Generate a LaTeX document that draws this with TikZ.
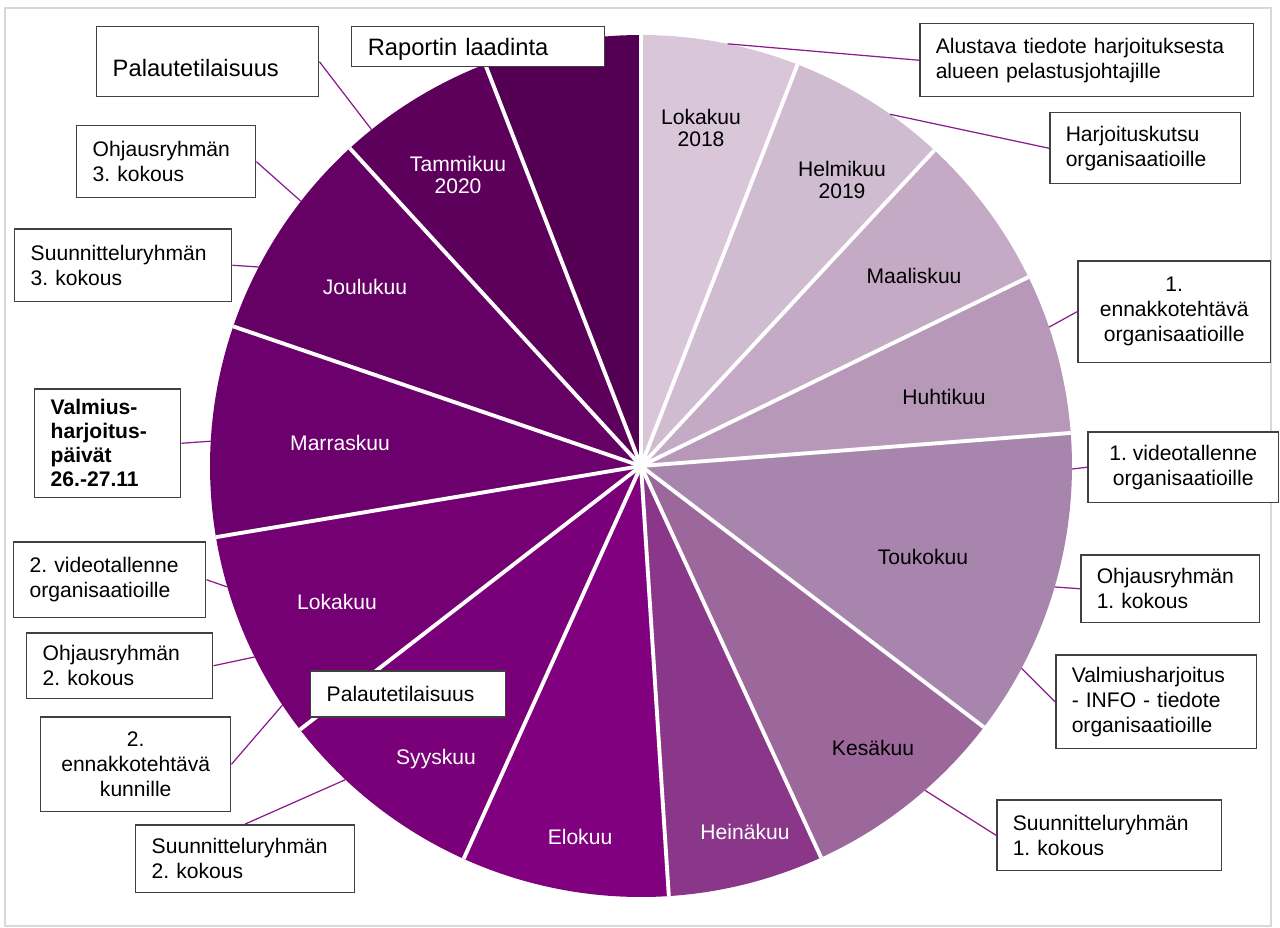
\documentclass[tikz,border=0pt]{standalone}
\usepackage{fontspec}
\setmainfont{Liberation Sans}
\usetikzlibrary{calc}
\frenchspacing
\definecolor{plum01}{HTML}{D9C6D9}
\definecolor{plum02}{HTML}{CFBCD0}
\definecolor{plum03}{HTML}{C4AAC5}
\definecolor{plum04}{HTML}{B898B9}
\definecolor{plum05}{HTML}{A885AC}
\definecolor{plum06}{HTML}{9C679B}
\definecolor{plum07}{HTML}{8A3789}
\definecolor{plum08}{HTML}{800080}
\definecolor{plum09}{HTML}{7A0079}
\definecolor{plum10}{HTML}{740073}
\definecolor{plum11}{HTML}{6C006C}
\definecolor{plum12}{HTML}{650064}
\definecolor{plum13}{HTML}{5D005C}
\definecolor{plum14}{HTML}{530052}
\definecolor{leadpurple}{HTML}{8B1A8B}
\definecolor{boxgrey}{HTML}{404040}
\definecolor{framegrey}{HTML}{D9D9D9}
\tikzstyle{box} = [
  draw=boxgrey,
  line width=0.85pt,
  fill=white,
  anchor=north west,
  inner sep=0pt,
  align=left,
  font=\fontsize{12}{14.2}\selectfont,
]
\tikzstyle{kuu} = [
  align=center,
  font=\fontsize{12}{13}\selectfont,
]
\tikzstyle{leader} = [leadpurple, line width=0.7pt]
\tikzstyle{spoke} = [white, line width=2.2pt]

\begin{document}
\begin{tikzpicture}[x=0.02cm, y=0.02cm]
            \useasboundingbox (0,0) rectangle (1280,-927);
            \def\radius{431}

            \coordinate (O) at (641,-466);

            % Frame
            \draw[framegrey, line width=1.1pt] (5,-8) rectangle (1271,-926);

            % Slices
            \fill[plum01] (O) -- ++(90:\radius) arc[start angle=90, end angle=68.7, radius=\radius] -- cycle;
            \fill[plum02] (O) -- ++(68.7:\radius) arc[start angle=68.7, end angle=47.1, radius=\radius] -- cycle;
            \fill[plum03] (O) -- ++(47.1:\radius) arc[start angle=47.1, end angle=26, radius=\radius] -- cycle;
            \fill[plum04] (O) -- ++(26:\radius) arc[start angle=26, end angle=4.4, radius=\radius] -- cycle;
            \fill[plum05] (O) -- ++(4.4:\radius) arc[start angle=4.4, end angle=-37.3, radius=\radius] -- cycle;
            \fill[plum06] (O) -- ++(-37.3:\radius) arc[start angle=-37.3, end angle=-65.3, radius=\radius] -- cycle;
            \fill[plum07] (O) -- ++(-65.3:\radius) arc[start angle=-65.3, end angle=-86.3, radius=\radius] -- cycle;
            \fill[plum08] (O) -- ++(-86.3:\radius) arc[start angle=-86.3, end angle=-114.3, radius=\radius] -- cycle;
            \fill[plum09] (O) -- ++(-114.3:\radius) arc[start angle=-114.3, end angle=-142.3, radius=\radius] -- cycle;
            \fill[plum10] (O) -- ++(-142.3:\radius) arc[start angle=-142.3, end angle=-170.5, radius=\radius] -- cycle;
            \fill[plum11] (O) -- ++(-170.5:\radius) arc[start angle=-170.5, end angle=-198.9, radius=\radius] -- cycle;
            \fill[plum12] (O) -- ++(-198.9:\radius) arc[start angle=-198.9, end angle=-227.5, radius=\radius] -- cycle;
            \fill[plum13] (O) -- ++(-227.5:\radius) arc[start angle=-227.5, end angle=-248.8, radius=\radius] -- cycle;
            \fill[plum14] (O) -- ++(-248.8:\radius) arc[start angle=-248.8, end angle=-270, radius=\radius] -- cycle;

            % White gaps between the months
            \foreach \a in {90,68.7,47.1,26,4.4,-37.3,-65.3,-86.3,-114.3,-142.3,-170.5,-198.9,-227.5,-248.8}
              \draw[spoke] (O) -- ++(\a:\radius);

            % Month labels
            \node[kuu] (lok18) at (701,-128) {Lokakuu\\2018};
            \node[kuu] (hel19) at (842,-180) {Helmikuu\\2019};
            \node[kuu] (maa) at (914,-276) {Maaliskuu};
            \node[kuu] (huh) at (944,-397) {Huhtikuu};
            \node[kuu] (tou) at (923,-557) {Toukokuu};
            \node[kuu] (kes) at (873,-748) {Kesäkuu};
            \node[kuu, white] (hei) at (745,-832) {Heinäkuu};
            \node[kuu, white] (elo) at (580,-837) {Elokuu};
            \node[kuu, white] (syy) at (436,-759) {Syyskuu};
            \node[kuu, white] (lok) at (337,-602) {Lokakuu};
            \node[kuu, white] (mar) at (340,-443) {Marraskuu};
            \node[kuu, white] (jou) at (365,-287) {Joulukuu};
            \node[kuu, white] (tam20) at (458,-175) {Tammikuu\\2020};

            % Points on the rim
            \coordinate (eAlu) at ($(O)+(78.4:\radius)$);
            \coordinate (eHar) at ($(O)+(54.7:\radius)$);
            \coordinate (eEnn1) at ($(O)+(18.8:\radius)$);
            \coordinate (eVid1) at ($(O)+(-0.4:\radius)$);
            \coordinate (eOhj1) at ($(O)+(-16.3:\radius)$);
            \coordinate (eInfo) at ($(O)+(-28:\radius)$);
            \coordinate (eSuu1) at ($(O)+(-48.8:\radius)$);
            \coordinate (ePal) at ($(O)+(128.7:\radius)$);
            \coordinate (eOhj3) at ($(O)+(142.1:\radius)$);
            \coordinate (eSuu3) at ($(O)+(152.5:\radius)$);
            \coordinate (eValm) at ($(O)+(176.7:\radius)$);
            \coordinate (eVid2) at ($(O)+(196.3:\radius)$);
            \coordinate (eOhj2) at ($(O)+(206.3:\radius)$);
            \coordinate (eEnn2) at ($(O)+(213.7:\radius)$);
            \coordinate (eSuu2) at ($(O)+(226.7:\radius)$);

            % Event boxes, right side
            \node[box, minimum width=6.68cm, minimum height=1.46cm, text width=6.04cm] (alustava) at (919,-23) {Alustava tiedote harjoituksesta\\alueen pelastusjohtajille};
            \node[box, minimum width=3.82cm, minimum height=1.42cm, text width=3.18cm] (kutsu) at (1049,-112) {Harjoituskutsu\\organisaatioille};
            \node[box, align=center, minimum width=3.86cm, minimum height=2.04cm] (ennakko1) at (1077,-260) {1.\\ennakkotehtävä\\organisaatioille};
            \node[box, align=center, minimum width=3.82cm, minimum height=1.42cm] (video1) at (1087,-431) {1. videotallenne\\organisaatioille};
            \node[box, minimum width=3.58cm, minimum height=1.36cm, text width=2.94cm] (ohjaus1) at (1080,-554) {Ohjausryhmän\\1. kokous};
            \node[box, minimum width=4.02cm, minimum height=1.88cm, text width=3.38cm] (info) at (1055,-654) {Valmiusharjoitus\\- INFO - tiedote\\organisaatioille};
            \node[box, minimum width=4.50cm, minimum height=1.42cm, text width=3.86cm] (suunn1) at (996,-799) {Suunnitteluryhmän\\1. kokous};

            % Event boxes, left side
            \node[box, font=\fontsize{13.5}{16}\selectfont, text height=13.2pt, text depth=2.9pt, minimum width=5.06cm, minimum height=0.80cm, text width=4.42cm] (raportti) at (351,-26) {Raportin laadinta};
            \node[box, font=\fontsize{13.5}{16}\selectfont, text height=16.6pt, text depth=0pt, minimum width=4.44cm, minimum height=1.40cm, text width=3.80cm] (palaute1) at (96,-26) {Palautetilaisuus};
            \node[box, minimum width=3.58cm, minimum height=1.44cm, text width=2.94cm] (ohjaus3) at (76,-125) {Ohjausryhmän\\3. kokous};
            \node[box, minimum width=4.34cm, minimum height=1.46cm, text width=3.70cm] (suunn3) at (14,-228) {Suunnitteluryhmän\\3. kokous};
            \node[box, font=\fontsize{12}{13.6}\selectfont\bfseries, minimum width=2.92cm, minimum height=2.18cm, text width=2.28cm] (paivat) at (34,-388) {Valmius-\\harjoitus-\\päivät\\26.-27.11};
            \node[box, minimum width=3.84cm, minimum height=1.52cm, text width=3.20cm] (video2) at (13,-541) {2. videotallenne\\organisaatioille};
            \node[box, minimum width=3.72cm, minimum height=1.32cm, text width=3.08cm] (ohjaus2) at (26,-632) {Ohjausryhmän\\2. kokous};
            \node[box, minimum width=3.90cm, minimum height=0.92cm, text width=3.26cm] (palaute2) at (310,-670) {Palautetilaisuus};
            \node[box, align=center, minimum width=3.80cm, minimum height=1.90cm] (ennakko2) at (40,-716) {2.\\ennakkotehtävä\\kunnille};
            \node[box, minimum width=4.38cm, minimum height=1.36cm, text width=3.74cm] (suunn2) at (135,-824) {Suunnitteluryhmän\\2. kokous};

            % Leader lines
            \draw[leader] (alustava.west) -- (eAlu);
            \draw[leader] (kutsu.west) -- (eHar);
            \draw[leader] (ennakko1.west) -- (eEnn1);
            \draw[leader] (video1.west) -- (eVid1);
            \draw[leader] (ohjaus1.west) -- (eOhj1);
            \draw[leader] (info.west) -- (eInfo);
            \draw[leader] (suunn1.west) -- (eSuu1);
            \draw[leader] (palaute1.east) -- (ePal);
            \draw[leader] (ohjaus3.east) -- (eOhj3);
            \draw[leader] (suunn3.east) -- (eSuu3);
            \draw[leader] (paivat.east) -- (eValm);
            \draw[leader] (video2.east) -- (eVid2);
            \draw[leader] (ohjaus2.east) -- (eOhj2);
            \draw[leader] (ennakko2.east) -- (eEnn2);
            \draw[leader] (suunn2.north) -- (eSuu2);
          \end{tikzpicture}
\end{document}
